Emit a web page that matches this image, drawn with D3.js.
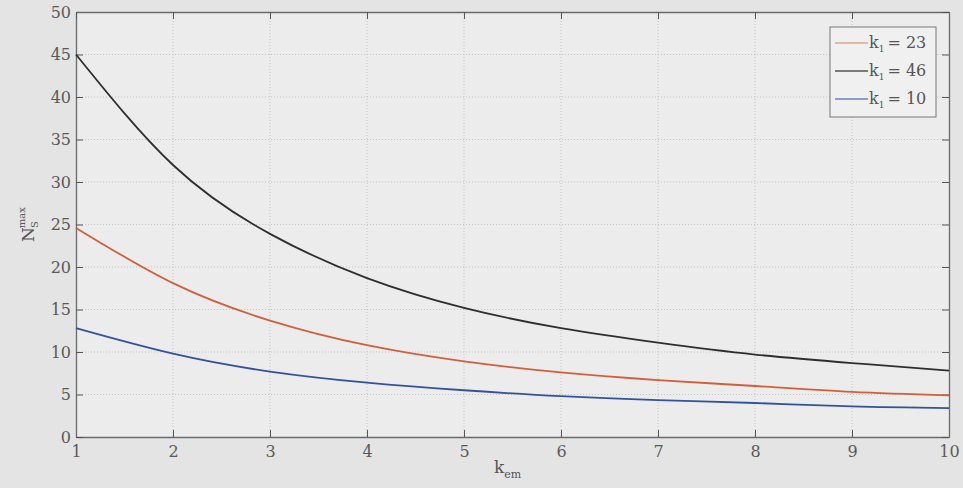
<!DOCTYPE html>
<html>
<head>
<meta charset="utf-8">
<script src="https://cdn.jsdelivr.net/npm/d3@7/dist/d3.min.js"></script>
<style>
  html, body { margin: 0; padding: 0; background: #e4e4e4; }
  svg { display: block; }
  .tick text { font-family: "DejaVu Serif", serif; font-size: 16px; fill: #5a5a5a; }
</style>
</head>
<body>
<svg id="chart" width="963" height="488"></svg>
<script>
// k_em values along the x axis
const kem = [1, 2, 3, 4, 5, 6, 7, 8, 9, 10];
// N_S^max for each k_1
const nK23 = [24.6, 18.1, 13.7, 10.8, 8.9, 7.6, 6.7, 6.0, 5.3, 4.9];
const nK46 = [45.0, 32.0, 23.9, 18.7, 15.2, 12.8, 11.1, 9.7, 8.7, 7.8];
const nK10 = [12.8, 9.8, 7.7, 6.4, 5.5, 4.8, 4.35, 4.0, 3.6, 3.4];
const seriesNames = ["k1 = 23", "k1 = 46", "k1 = 10"];
const xTicks = [1, 2, 3, 4, 5, 6, 7, 8, 9, 10];
const yTicks = [0, 5, 10, 15, 20, 25, 30, 35, 40, 45, 50];

const series = [
  { k: "23", values: nK23, color: "#d25f3c", legend: "#e3a58a" },
  { k: "46", values: nK46, color: "#2e2e2e", legend: "#555" },
  { k: "10", values: nK10, color: "#34529c", legend: "#6f80b8" }
];

const svg = d3.select("#chart");
const m = { left: 76, right: 14, top: 12, bottom: 51 };
const W = 963, H = 488;
const iw = W - m.left - m.right, ih = H - m.top - m.bottom;

const x = d3.scaleLinear().domain([1, 10]).range([m.left, m.left + iw]);
const y = d3.scaleLinear().domain([0, 50]).range([m.top + ih, m.top]);

// plot area
svg.append("rect").attr("x", m.left).attr("y", m.top).attr("width", iw).attr("height", ih)
  .attr("fill", "#ececec");

// dotted grid
const grid = svg.append("g").attr("stroke", "#c4c4c4").attr("stroke-width", 1).attr("stroke-dasharray", "1,2");
grid.selectAll("line.v").data(xTicks.slice(1, -1)).join("line")
  .attr("x1", d => x(d)).attr("x2", d => x(d)).attr("y1", m.top).attr("y2", m.top + ih);
grid.selectAll("line.h").data(yTicks.slice(1, -1)).join("line")
  .attr("y1", d => y(d)).attr("y2", d => y(d)).attr("x1", m.left).attr("x2", m.left + iw);

// axes with inward ticks, boxed
function styleAxis(g) {
  g.select(".domain").attr("stroke", "#6a6a6a").attr("stroke-width", 1.3);
  g.selectAll(".tick line").attr("stroke", "#555");
}
svg.append("g").attr("transform", `translate(0,${m.top + ih})`)
  .call(d3.axisBottom(x).tickValues(xTicks).tickSizeInner(-7).tickSizeOuter(0).tickPadding(9))
  .call(styleAxis);
svg.append("g").attr("transform", `translate(${m.left},0)`)
  .call(d3.axisLeft(y).tickValues(yTicks).tickSizeInner(-7).tickSizeOuter(0).tickPadding(5))
  .call(styleAxis);
svg.append("g").attr("transform", `translate(0,${m.top})`)
  .call(d3.axisTop(x).tickValues(xTicks).tickSizeInner(-7).tickSizeOuter(0).tickFormat(""))
  .call(styleAxis);
svg.append("g").attr("transform", `translate(${m.left + iw},0)`)
  .call(d3.axisRight(y).tickValues(yTicks).tickSizeInner(-7).tickSizeOuter(0).tickFormat(""))
  .call(styleAxis);

// curves
const line = d3.line().x((d, i) => x(kem[i])).y(d => y(d)).curve(d3.curveNatural);
svg.append("g").selectAll("path").data(series).join("path")
  .attr("d", d => line(d.values))
  .attr("fill", "none").attr("stroke", d => d.color).attr("stroke-width", 1.8);

// axis labels
const xl = svg.append("text").attr("x", x(5.45)).attr("y", 473)
  .attr("font-family", "DejaVu Serif, serif").attr("font-size", 17).attr("fill", "#555")
  .attr("text-anchor", "middle");
xl.append("tspan").text("k");
xl.append("tspan").attr("font-size", 11).attr("dy", 5).text("em");

const yl = svg.append("text").attr("transform", `translate(34,${y(25)}) rotate(-90)`)
  .attr("font-family", "DejaVu Serif, serif").attr("font-size", 17).attr("fill", "#555")
  .attr("text-anchor", "middle");
yl.append("tspan").text("N");
yl.append("tspan").attr("font-size", 10).attr("dy", 4).attr("dx", -1).text("S");
yl.append("tspan").attr("font-size", 10).attr("dy", -13).attr("dx", -7).text("max");

// legend
const lg = svg.append("g");
lg.append("rect").attr("x", 830).attr("y", 27).attr("width", 106).attr("height", 90)
  .attr("fill", "#f0f0f0").attr("stroke", "#777").attr("stroke-width", 1);
series.forEach((s, i) => {
  const cy = 43 + i * 28;
  lg.append("line").attr("x1", 835).attr("x2", 868).attr("y1", cy).attr("y2", cy)
    .attr("stroke", s.legend).attr("stroke-width", 1.5);
  const t = lg.append("text").attr("x", 869).attr("y", cy + 5)
    .attr("font-family", "DejaVu Serif, serif").attr("font-size", 16).attr("fill", "#555");
  t.append("tspan").text("k");
  t.append("tspan").attr("font-size", 9).attr("dy", 4).text("1");
  t.append("tspan").attr("dy", -4).attr("dx", 3).text("= " + s.k);
});
</script>
</body>
</html>
